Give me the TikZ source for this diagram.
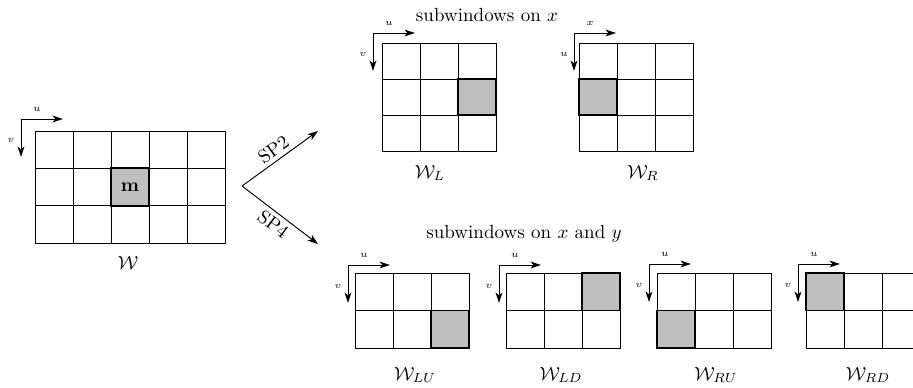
\documentclass[tikz,border=0pt]{standalone}
\usetikzlibrary{calc,arrows.meta}

\begin{document}
\begin{tikzpicture}[x=0.526pt, y=0.526pt,
    winlines/.style={line width=0.5pt, xstep=38},
    marked/.style={fill=black!25, draw=black, line width=0.9pt},
    axis/.style={line width=0.5pt, -{Stealth[length=5.5pt, width=3.6pt, inset=1.5pt]}},
    axlabel/.style={font=\tiny, inner sep=0pt},
    split/.style={line width=0.5pt, -{Stealth[length=5.5pt, width=3.8pt, inset=1.5pt]}}]

% page is 913 x 387 units, W_RD runs over the right edge
\path[use as bounding box, clip] (0,0) rectangle (913,387);

% axis pair: name, origin, horizontal label, vertical label
\def\uvaxes#1#2#3#4{%
  \coordinate (#1) at #2;
  \coordinate (#1h) at ($(#1)+(42,0)$);
  \coordinate (#1v) at ($(#1)+(0,-38)$);
  \draw[axis] (#1) -- (#1h);
  \draw[axis] (#1) -- (#1v);
  \node[axlabel] (#1hl) at ($(#1)+(16,10)$) {$#3$};
  \node[axlabel] (#1vl) at ($(#1)+(-10,-21)$) {$#4$};}

% ---- whole window W (5 x 3 cells) ----
\draw[winlines, ystep=37.333, shift={(35,144)}] (0,0) grid (190,112);
\draw[winlines] (35,144) rectangle (225,256);
\draw[marked] (111,181.333) rectangle (149,218.667);
\node (m) at (130,200) {$\mathbf{m}$};
\node (W) at (128,124) {$\mathcal{W}$};
\uvaxes{aW}{(21,268)}{u}{v}

% ---- the two splits ----
\coordinate (fork) at (242,201);
\coordinate (toX) at (318,256);
\coordinate (toXY) at (318,143);
\draw[split] (fork) -- node[sloped, above, inner sep=2pt] (sp2) {SP2} (toX);
\draw[split] (fork) -- node[sloped, below, inner sep=2pt] (sp4) {SP4} (toXY);

% ---- subwindows on x (3 x 3 cells) ----
\node (onx) at (487,372) {subwindows on $x$};

% left
\draw[winlines, ystep=36, shift={(382,236)}] (0,0) grid (114,108);
\draw[winlines] (382,236) rectangle (496,344);
\draw[marked] (458,272) rectangle (496,308);
\node (WL) at (430,214) {$\mathcal{W}_L$};
\uvaxes{aL}{(373,354)}{u}{v}

% right
\draw[winlines, ystep=36, shift={(579,236)}] (0,0) grid (114,108);
\draw[winlines] (579,236) rectangle (693,344);
\draw[marked] (579,272) rectangle (617,308);
\node (WR) at (643,214) {$\mathcal{W}_R$};
\uvaxes{aR}{(574,354)}{x}{u}

% ---- subwindows on x and y (3 x 2 cells) ----
\node (onxy) at (524,153) {subwindows on $x$ and $y$};

% left up
\draw[winlines, ystep=37.5, shift={(355,39)}] (0,0) grid (114,75);
\draw[winlines] (355,39) rectangle (469,114);
\draw[marked] (431,39) rectangle (469,76.5);
\node (WLU) at (415,12) {$\mathcal{W}_{LU}$};
\uvaxes{aLU}{(348,122)}{u}{v}

% left down
\draw[winlines, ystep=37.5, shift={(506,39)}] (0,0) grid (114,75);
\draw[winlines] (506,39) rectangle (620,114);
\draw[marked] (582,76.5) rectangle (620,114);
\node (WLD) at (561,12) {$\mathcal{W}_{LD}$};
\uvaxes{aLD}{(499,122)}{u}{v}

% right up
\draw[winlines, ystep=37.5, shift={(657,39)}] (0,0) grid (114,75);
\draw[winlines] (657,39) rectangle (771,114);
\draw[marked] (657,39) rectangle (695,76.5);
\node (WRU) at (716,12) {$\mathcal{W}_{RU}$};
\uvaxes{aRU}{(649,123)}{u}{v}

% right down
\draw[winlines, ystep=37.5, shift={(806,39)}] (0,0) grid (114,75);
\draw[winlines] (806,39) rectangle (920,114);
\draw[marked] (806,76.5) rectangle (844,114);
\node (WRD) at (868,12) {$\mathcal{W}_{RD}$};
\uvaxes{aRD}{(798,123)}{u}{v}

\end{tikzpicture}
\end{document}
